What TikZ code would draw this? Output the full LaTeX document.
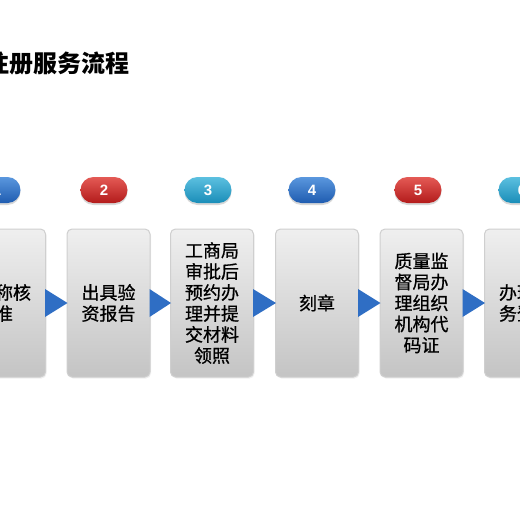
\documentclass[tikz,border=0pt]{standalone}
\usepackage{fontspec}
\usetikzlibrary{calc,shadows}
\setmainfont{Liberation Sans}
\newfontfamily\cjk{Noto Sans CJK SC}
\newfontfamily\song{Noto Sans CJK SC}[FakeBold=0.8]
\definecolor{bluetop}{HTML}{5A97DE}
\definecolor{bluebot}{HTML}{1F5CB0}
\definecolor{redtop}{HTML}{E45A55}
\definecolor{redbot}{HTML}{B31B1B}
\definecolor{tealtop}{HTML}{5CC0E0}
\definecolor{tealbot}{HTML}{1A8DB8}
\definecolor{arrowblue}{HTML}{2F6EC4}
\definecolor{boxtop}{HTML}{EFEFEF}
\definecolor{boxbot}{HTML}{C4C4C4}
\definecolor{boxline}{HTML}{CFCFCF}
\begin{document}
\begin{tikzpicture}[x=1pt,y=-1pt,
  stepbox/.style={rectangle, rounded corners=5pt, minimum width=83pt, minimum height=148pt,
    draw=boxline, line width=1pt, top color=boxtop, bottom color=boxbot, align=center,
    inner sep=0pt, font=\song\fontsize{18}{21}\selectfont,
    drop shadow={opacity=0.12, shadow xshift=1pt, shadow yshift=-1.5pt}},
  badge/.style={rectangle, rounded corners=13pt, minimum width=47pt, minimum height=26pt,
    inner sep=0pt, text=white, font=\bfseries\fontsize{15}{15}\selectfont,
    drop shadow={opacity=0.3, shadow xshift=0pt, shadow yshift=-2pt}},
  bblue/.style={badge, top color=bluetop, bottom color=bluebot},
  bred/.style={badge, top color=redtop, bottom color=redbot},
  bteal/.style={badge, top color=tealtop, bottom color=tealbot},
  tri/.style={fill=arrowblue}]
\useasboundingbox (0,0) rectangle (520,520);
\clip (0,0) rectangle (520,520);
\fill[white] (0,0) rectangle (520,520);

\node[anchor=east, inner sep=0pt, font=\cjk\bfseries\fontsize{24}{24}\selectfont] (title) at (130,63) {公司注册服务流程};

\node[bblue] (n1) at (-3,190) {1};
\node[bred]  (n2) at (104,190) {2};
\node[bteal] (n3) at (208,190) {3};
\node[bblue] (n4) at (312,190) {4};
\node[bred]  (n5) at (418,190) {5};
\node[bteal] (n6) at (522,190) {6};

\node[stepbox] (b1) at (4,303) {名称核\\准};
\node[stepbox] (b2) at (108.5,303) {出具验\\资报告};
\node[stepbox] (b3) at (212,303) {工商局\\审批后\\预约办\\理并提\\交材料\\领照};
\node[stepbox] (b4) at (317,303) {刻章};
\node[stepbox] (b5) at (421.5,303) {质量监\\督局办\\理组织\\机构代\\码证};
\node[stepbox] (b6) at (526,303) {办理税\\务登记};

\foreach \a/\b in {b1/b2,b2/b3,b3/b4,b4/b5,b5/b6}{
  \fill[tri] ($(\a.east)+(-1,-14)$) -- ($(\a.east)+(-1,14)$) -- ($(\b.west)+(1,0)$) -- cycle;
}
\end{tikzpicture}
\end{document}
